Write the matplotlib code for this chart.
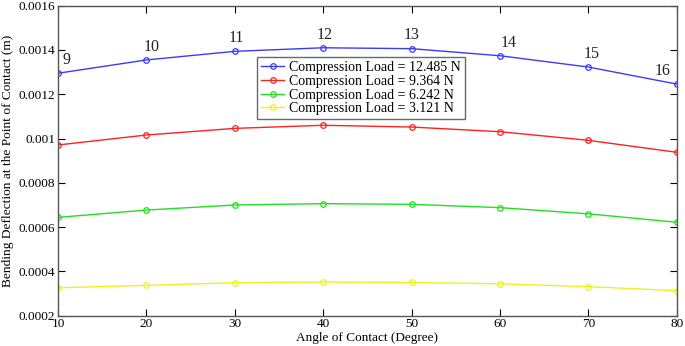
import matplotlib
matplotlib.use("Agg")
import matplotlib.pyplot as plt
from matplotlib.ticker import FormatStrFormatter

angles = [10, 20, 30, 40, 50, 60, 70, 80]
load_12485 = [0.001295, 0.001355, 0.001394, 0.001410, 0.001406, 0.001374, 0.001323, 0.001246]
load_9364 = [0.000971, 0.001016, 0.001046, 0.001060, 0.001052, 0.001031, 0.000992, 0.000938]
load_6242 = [0.000644, 0.000677, 0.000700, 0.000706, 0.000703, 0.000688, 0.000660, 0.000622]
load_3121 = [0.000326, 0.000337, 0.000349, 0.000352, 0.000350, 0.000344, 0.000331, 0.000313]
point_labels = ["9", "10", "11", "12", "13", "14", "15", "16"]
series_labels = ["Compression Load = 12.485 N", "Compression Load = 9.364 N",
                 "Compression Load = 6.242 N", "Compression Load = 3.121 N"]
colors = ["#3a3aff", "#ff2020", "#20e020", "#f0f020"]
label_dx = [6, 4, 1, 1, 0, 6, 2, -10]   # horizontal offsets of the point labels (points)

plt.rcParams['font.family'] = ['Liberation Serif', 'DejaVu Serif']

fig = plt.figure(figsize=(6.85, 3.46), dpi=100)
ax = fig.add_axes([0.0847, 0.0876, 0.9033, 0.8959])

for ys, c, lab in zip([load_12485, load_9364, load_6242, load_3121], colors, series_labels):
    ax.plot(angles, ys, color=c, lw=1.0, marker='o', ms=4, mfc='none', mec=c, mew=0.9, label=lab)

for x, y, t, dx in zip(angles, load_12485, point_labels, label_dx):
    ax.annotate(t, (x, y), xytext=(dx, 9.5), textcoords='offset points', fontsize=11.5,
                ha='center', va='center', color='#222222')

ax.set_xlim(10, 80)
ax.set_ylim(0.0002, 0.0016)
ax.set_xticks(angles)
ax.set_yticks([0.0002, 0.0004, 0.0006, 0.0008, 0.0010, 0.0012, 0.0014, 0.0016])
ax.yaxis.set_major_formatter(FormatStrFormatter('%g'))
ax.tick_params(direction='in', top=True, right=True, labelsize=9.5, length=5, width=0.8, pad=2)
for s in ax.spines.values():
    s.set_color('#555555')
    s.set_linewidth(1.0)
ax.set_xlabel("Angle of Contact (Degree)", fontsize=9.5, labelpad=1)
ax.set_ylabel("Bending Deflection at the Point of Contact (m)", fontsize=9.6, labelpad=3)

leg = ax.legend(loc='center', bbox_to_anchor=(0.49, 0.734), fontsize=10, frameon=True,
                fancybox=False, handlelength=1.6, borderpad=0.3, labelspacing=0.05,
                handletextpad=0.4, borderaxespad=0)
leg.get_frame().set_edgecolor('#444444')
leg.get_frame().set_linewidth(1.0)

fig.savefig("out.png", dpi=100)
